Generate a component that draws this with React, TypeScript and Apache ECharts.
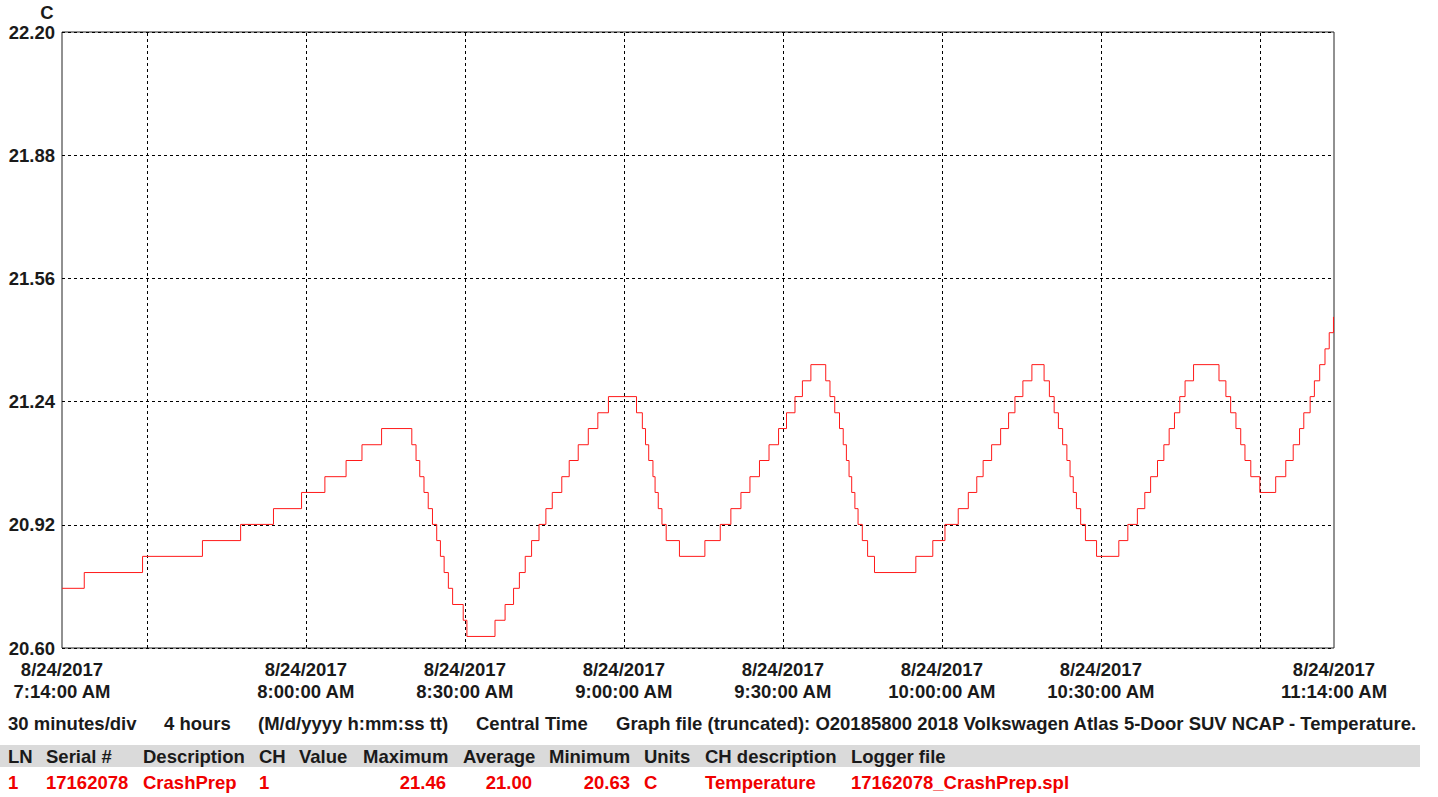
import React, { useEffect, useRef } from "react";
import * as echarts from "echarts";

// ---- data ----
const DATE_LABEL = "8/24/2017";
const START_MIN = 7 * 60 + 14; // 7:14:00 AM
const END_MIN = 11 * 60 + 14; // 11:14:00 AM

// step change times (minutes after 7:14:00 AM) and the temperature held from that time on
const elapsedMin = [
  0, 4.2, 15.2, 26.5, 33.7, 39.9, 45.2, 49.6, 53.6, 56.6, 60.3,
  66.0, 66.8, 67.5, 68.3, 69.1, 69.9, 70.7, 71.4, 72.1, 72.9, 73.7, 75.7, 76.4,
  81.7, 83.6, 85.2, 86.3, 87.4, 88.6, 90.0, 91.3, 92.5, 94.3, 95.7, 97.4, 99.3, 101.1, 103.1,
  108.4, 109.5, 110.1, 110.7, 111.5, 111.9, 112.5, 113.2, 114.0, 116.5,
  121.3, 124.2, 126.2, 128.1, 129.8, 131.6, 133.4, 135.2, 136.7, 138.3, 139.7, 141.3,
  144.1, 144.9, 145.8, 146.7, 147.4, 148.0, 148.5, 149.0, 149.6, 150.2, 151.0, 152.0, 153.3,
  161.1, 164.3, 166.6, 169.1, 171.0, 172.6, 173.8, 175.4, 177.1, 178.6, 179.8, 181.3, 183.0,
  185.3, 186.3, 187.2, 188.0, 188.8, 189.6, 190.2, 190.8, 191.4, 192.2, 193.1, 195.2,
  199.4, 201.1, 202.9, 204.3, 205.4, 206.7, 207.9, 208.9, 209.9, 210.9, 211.9, 213.5,
  218.3, 219.6, 220.5, 221.5, 222.4, 223.2, 224.3, 226.0,
  229.0, 230.9, 232.3, 233.5, 234.3, 235.5, 236.3, 237.3, 238.3, 239.1, 239.9, 240,
];
const tempC = [
  20.755, 20.796, 20.838, 20.879, 20.921, 20.962, 21.004, 21.045, 21.087, 21.128, 21.170,
  21.128, 21.087, 21.045, 21.004, 20.962, 20.921, 20.879, 20.838, 20.796, 20.755, 20.713, 20.672, 20.630,
  20.672, 20.713, 20.755, 20.796, 20.838, 20.879, 20.921, 20.962, 21.004, 21.045, 21.087, 21.128, 21.170, 21.211, 21.253,
  21.211, 21.170, 21.128, 21.087, 21.045, 21.004, 20.962, 20.921, 20.879, 20.838,
  20.879, 20.921, 20.962, 21.004, 21.045, 21.087, 21.128, 21.170, 21.211, 21.253, 21.294, 21.336,
  21.294, 21.253, 21.211, 21.170, 21.128, 21.087, 21.045, 21.004, 20.962, 20.921, 20.879, 20.838, 20.796,
  20.838, 20.879, 20.921, 20.962, 21.004, 21.045, 21.087, 21.128, 21.170, 21.211, 21.253, 21.294, 21.336,
  21.294, 21.253, 21.211, 21.170, 21.128, 21.087, 21.045, 21.004, 20.962, 20.921, 20.879, 20.838,
  20.879, 20.921, 20.962, 21.004, 21.045, 21.087, 21.128, 21.170, 21.211, 21.253, 21.294, 21.336,
  21.294, 21.253, 21.211, 21.170, 21.128, 21.087, 21.045, 21.004,
  21.045, 21.087, 21.128, 21.170, 21.211, 21.253, 21.294, 21.336, 21.377, 21.419, 21.460, 21.460,
];

// axis: ticks / labels
const Y_MIN = 20.6;
const Y_MAX = 22.2;
const Y_STEP = 0.32;
const Y_UNIT = "C";
const xLabelMinutes = [434, 480, 510, 540, 570, 600, 630, 674];
const xGridMinutes = [450, 480, 510, 540, 570, 600, 630, 660];

// footer texts
const infoItems = [
  "30 minutes/div",
  "4 hours",
  "(M/d/yyyy h:mm:ss tt)",
  "Central Time",
  "Graph file (truncated): O20185800 2018 Volkswagen Atlas 5-Door SUV NCAP - Temperature.",
];
const headerItems = ["LN", "Serial #", "Description", "CH", "Value", "Maximum", "Average", "Minimum", "Units", "CH description", "Logger file"];
const rowItems = ["1", "17162078", "CrashPrep", "1", "", "21.46", "21.00", "20.63", "C", "Temperature", "17162078_CrashPrep.spl"];

// layout (positions only)
const infoX = [8, 164, 258, 476, 616];
const headerX = [8, 46, 143, 259, 299, 363, 463, 549, 644, 705, 851];
const rowX = [8, 46, 143, 259, 299, 446, 532, 630, 644, 705, 851];
const rowAlign = ["left", "left", "left", "left", "left", "right", "right", "right", "left", "left", "left"];

const FONT_FAMILY = '"Liberation Sans", Arial, sans-serif';
const FONT_SIZE = 18.5;
const FONT = `bold ${FONT_SIZE}px ${FONT_FAMILY}`;
const TEXT_COLOR = "#1a1a1a";
const RED = "#f00000";

function fmtClock(m: number): string {
  const h = Math.floor(m / 60);
  const mm = Math.round(m - h * 60);
  const ampm = h >= 12 ? "PM" : "AM";
  const h12 = h % 12 === 0 ? 12 : h % 12;
  return `${h12}:${String(mm).padStart(2, "0")}:00 ${ampm}`;
}

export default function App() {
  const ref = useRef<HTMLDivElement>(null);

  useEffect(() => {
    document.body.style.margin = "0";
    if (!ref.current) return;
    const chart = echarts.init(ref.current, null, { renderer: "svg" });

    const lineData = elapsedMin.map((t, i) => [START_MIN + t, tempC[i]]);

    const graphics: any[] = [];
    graphics.push({
      type: "text",
      style: { text: Y_UNIT, x: 47, y: 12, fill: TEXT_COLOR, font: FONT, textAlign: "center", textVerticalAlign: "middle" },
    });
    infoItems.forEach((t, i) => {
      graphics.push({
        type: "text",
        style: { text: t, x: infoX[i], y: 723, fill: TEXT_COLOR, font: FONT, textAlign: "left", textVerticalAlign: "middle" },
      });
    });
    graphics.push({
      type: "rect",
      shape: { x: 0, y: 745, width: 1420, height: 22 },
      style: { fill: "#dadada" },
      z: 0,
    });
    headerItems.forEach((t, i) => {
      graphics.push({
        type: "text",
        z: 1,
        style: { text: t, x: headerX[i], y: 756, fill: TEXT_COLOR, font: FONT, textAlign: "left", textVerticalAlign: "middle" },
      });
    });
    rowItems.forEach((t, i) => {
      if (!t) return;
      graphics.push({
        type: "text",
        style: { text: t, x: rowX[i], y: 782, fill: RED, font: FONT, textAlign: rowAlign[i], textVerticalAlign: "middle" },
      });
    });

    chart.setOption({
      animation: false,
      backgroundColor: "#ffffff",
      grid: {
        left: 62,
        top: 32,
        width: 1272,
        height: 616,
        show: true,
        borderColor: "#222",
        borderWidth: 1,
        containLabel: false,
      },
      xAxis: {
        type: "value",
        min: START_MIN,
        max: END_MIN,
        axisLine: { show: false },
        axisTick: { show: false },
        splitLine: { show: false },
        axisLabel: {
          customValues: xLabelMinutes,
          showMinLabel: true,
          showMaxLabel: true,
          margin: 10,
          color: TEXT_COLOR,
          fontFamily: FONT_FAMILY,
          fontWeight: "bold",
          fontSize: FONT_SIZE,
          lineHeight: 22,
          align: "center",
          formatter: (v: number) => `${DATE_LABEL}\n${fmtClock(v)}`,
        },
      },
      yAxis: {
        type: "value",
        min: Y_MIN,
        max: Y_MAX,
        interval: Y_STEP,
        axisLine: { show: false },
        axisTick: { show: false },
        splitLine: { show: true, lineStyle: { color: "#000", type: [3, 3], width: 1 } },
        axisLabel: {
          showMinLabel: true,
          showMaxLabel: true,
          margin: 7,
          color: TEXT_COLOR,
          fontFamily: FONT_FAMILY,
          fontWeight: "bold",
          fontSize: FONT_SIZE,
          formatter: (v: number) => v.toFixed(2),
        },
      },
      series: [
        {
          type: "line",
          step: "end",
          data: lineData,
          showSymbol: false,
          symbol: "none",
          lineStyle: { color: "#ff1a1a", width: 1 },
          itemStyle: { color: "#ff1a1a" },
          markLine: {
            silent: true,
            symbol: ["none", "none"],
            label: { show: false },
            lineStyle: { color: "#000", type: [3, 3], width: 1 },
            data: xGridMinutes.map((m) => ({ xAxis: m })),
            z: 1,
          },
          z: 3,
        },
      ],
      graphic: graphics,
    });

    return () => chart.dispose();
  }, []);

  return <div ref={ref} style={{ position: "absolute", left: 0, top: 0, width: 1438, height: 797 }} />;
}
